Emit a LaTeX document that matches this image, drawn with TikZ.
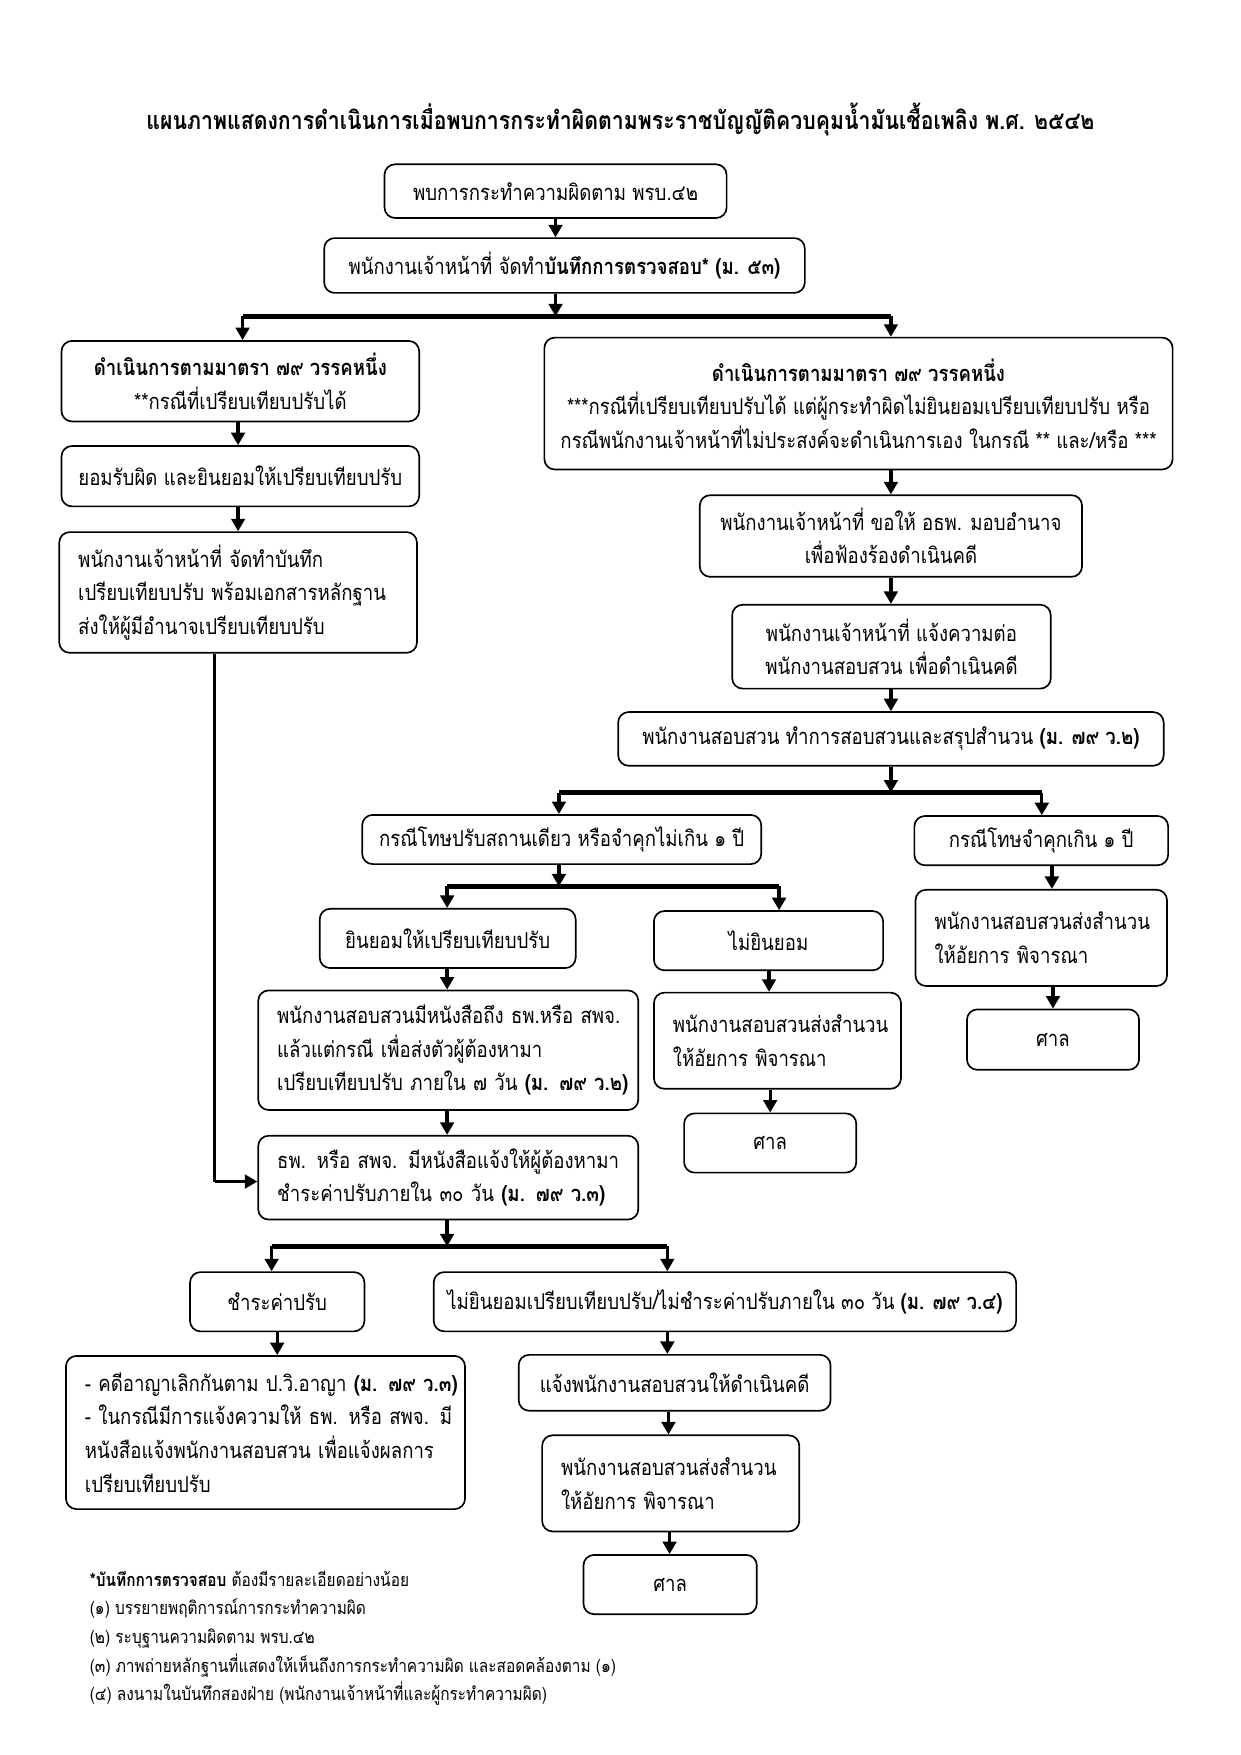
\documentclass[tikz,border=0pt]{standalone}
\usepackage{fontspec}
\setmainfont[Script=Thai, FakeStretch=0.85]{Loma}
\usetikzlibrary{arrows.meta,calc}
\newcommand\uu{0.5363pt}
\newcommand\lne[1]{\mbox{#1}}
\tikzset{
  box/.style={draw, line width=0.8pt, rounded corners=5pt, inner sep=0pt, align=center,
    font=\fontsize{10.5}{16.1}\selectfont},
  sz/.style 2 args={minimum width=#1*\uu, minimum height=#2*\uu},
  lbox/.style 2 args={box, align=left, minimum width=#1*\uu, minimum height=#2*\uu,
    text width=(#1-34)*\uu, inner xsep=0pt},
  arr/.style={line width=1.6pt, -{Triangle[length=6pt,width=6.5pt]}},
  bar/.style={line width=2.4pt},
}
\begin{document}
\begin{tikzpicture}[x=0.5363pt,y=-0.5363pt]
\useasboundingbox (0,0) rectangle (1110,1570);
\node[font=\bfseries\fontsize{12}{15}\selectfont] (title) at (555,107) {แผนภาพแสดงการดำเนินการเมื่อพบการกระทำผิดตามพระราชบัญญัติควบคุมน้ำมันเชื้อเพลิง พ.ศ. ๒๕๔๒};

\node[box, sz={306}{48}] (A) at (497,171) {พบการกระทำความผิดตาม พรบ.๔๒};
\node[box, sz={430}{49}] (B) at (505,237.5) {พนักงานเจ้าหน้าที่ จัดทำ\textbf{บันทึกการตรวจสอบ* (ม. ๕๓)}};

\node[box, sz={320}{72}] (L1) at (215,341) {\textbf{ดำเนินการตามมาตรา ๗๙ วรรคหนึ่ง}\\**กรณีที่เปรียบเทียบปรับได้};
\node[box, sz={320}{54}] (L2) at (215,426) {ยอมรับผิด และยินยอมให้เปรียบเทียบปรับ};
\node[lbox={320}{108}] (L3) at (213,530) {\lne{พนักงานเจ้าหน้าที่ จัดทำบันทึก}\\\lne{เปรียบเทียบปรับ พร้อมเอกสารหลักฐาน}\\\lne{ส่งให้ผู้มีอำนาจเปรียบเทียบปรับ}};

\node[box, sz={562}{118}] (R1) at (768,361) {\textbf{ดำเนินการตามมาตรา ๗๙ วรรคหนึ่ง}\\***กรณีที่เปรียบเทียบปรับได้ แต่ผู้กระทำผิดไม่ยินยอมเปรียบเทียบปรับ หรือ\\กรณีพนักงานเจ้าหน้าที่ไม่ประสงค์จะดำเนินการเอง ในกรณี ** และ/หรือ ***};
\node[box, sz={342}{73}] (R2) at (797,479.5) {พนักงานเจ้าหน้าที่ ขอให้ อธพ. มอบอำนาจ\\เพื่อฟ้องร้องดำเนินคดี};
\node[box, sz={285}{75}] (R3) at (797.5,578.5) {พนักงานเจ้าหน้าที่ แจ้งความต่อ\\พนักงานสอบสวน เพื่อดำเนินคดี};
\node[box, sz={488}{48}] (R4) at (797,661) {พนักงานสอบสวน ทำการสอบสวนและสรุปสำนวน \textbf{(ม. ๗๙ ว.๒)}};

\node[box, sz={357}{44}] (M1) at (502.5,751) {กรณีโทษปรับสถานเดียว หรือจำคุกไม่เกิน ๑ ปี};
\node[box, sz={227}{44}] (M2) at (931.5,752) {กรณีโทษจำคุกเกิน ๑ ปี};
\node[lbox={225}{86}] (M3) at (931.5,839) {\lne{พนักงานสอบสวนส่งสำนวน}\\\lne{ให้อัยการ พิจารณา}};
\node[box, sz={154}{54}] (M4) at (942,930) {ศาล};

\node[box, sz={229}{53}] (N1) at (400.5,839.5) {ยินยอมให้เปรียบเทียบปรับ};
\node[lbox={340}{107}] (N2) at (401,939.5) {\lne{พนักงานสอบสวนมีหนังสือถึง ธพ.หรือ สพจ.}\\\lne{แล้วแต่กรณี เพื่อส่งตัวผู้ต้องหามา}\\\lne{เปรียบเทียบปรับ ภายใน ๗ วัน \textbf{(ม. ๗๙ ว.๒)}}};
\node[lbox={340}{75}] (N3) at (401,1053.5) {\lne{ธพ. หรือ สพจ. มีหนังสือแจ้งให้ผู้ต้องหามา}\\\lne{ชำระค่าปรับภายใน ๓๐ วัน \textbf{(ม. ๗๙ ว.๓)}}};

\node[box, sz={205}{53}] (O1) at (687.5,841.5) {ไม่ยินยอม};
\node[lbox={221}{86}] (O2) at (695.5,931) {\lne{พนักงานสอบสวนส่งสำนวน}\\\lne{ให้อัยการ พิจารณา}};
\node[box, sz={154}{53}] (O3) at (689,1022.5) {ศาล};

\node[box, sz={156}{53}] (P1) at (248,1164.5) {ชำระค่าปรับ};
\node[box, sz={521}{53}] (P2) at (648.5,1164.5) {ไม่ยินยอมเปรียบเทียบปรับ/ไม่ชำระค่าปรับภายใน ๓๐ วัน \textbf{(ม. ๗๙ ว.๔)}};
\node[lbox={357}{137}] (Q1) at (237.5,1281.5) {\lne{- คดีอาญาเลิกกันตาม ป.วิ.อาญา \textbf{(ม. ๗๙ ว.๓)}}\\\lne{- ในกรณีมีการแจ้งความให้ ธพ. หรือ สพจ. มี}\\\lne{หนังสือแจ้งพนักงานสอบสวน เพื่อแจ้งผลการ}\\\lne{เปรียบเทียบปรับ}};
\node[box, sz={279}{50}] (Q2) at (603.5,1237) {แจ้งพนักงานสอบสวนให้ดำเนินคดี};
\node[lbox={230}{86}] (Q3) at (600,1327) {\lne{พนักงานสอบสวนส่งสำนวน}\\\lne{ให้อัยการ พิจารณา}};
\node[box, sz={155}{53}] (Q4) at (599.5,1417.5) {ศาล};

\node[anchor=north west, align=left, inner sep=0pt, font=\fontsize{8.7}{13.7}\selectfont] (note) at (80,1405)
{\textbf{*บันทึกการตรวจสอบ} ต้องมีรายละเอียดอย่างน้อย\\
(๑) บรรยายพฤติการณ์การกระทำความผิด\\
(๒) ระบุฐานความผิดตาม พรบ.๔๒\\
(๓) ภาพถ่ายหลักฐานที่แสดงให้เห็นถึงการกระทำความผิด และสอดคล้องตาม (๑)\\
(๔) ลงนามในบันทึกสองฝ่าย (พนักงานเจ้าหน้าที่และผู้กระทำความผิด)};

% junctions
\coordinate (jB) at (497,283);
\coordinate (jBl) at (217,283);
\coordinate (jBr) at (797,283);
\coordinate (jR) at (797,709);
\coordinate (jRl) at (500,709);
\coordinate (jRr) at (932,709);
\coordinate (jM) at (500,793);
\coordinate (jMl) at (400,793);
\coordinate (jMr) at (697,793);
\coordinate (jN) at (400,1115);
\coordinate (jNl) at (243,1115);
\coordinate (jNr) at (597,1115);
\coordinate (k1) at (192,1057);

\draw[arr] (A.south -| jB) -- (B.north -| jB);
\draw[arr] (B.south -| jB) -- (jB);
\draw[bar] (jBl) -- (jBr);
\draw[arr] (jBl) -- (jBl |- L1.north);
\draw[arr] (jBr) -- (jBr |- R1.north);

\draw[arr] (L1.south -| 213,0) -- (L2.north -| 213,0);
\draw[arr] (L2.south -| 213,0) -- (L3.north -| 213,0);
\draw[line width=1.6pt] (L3.south -| k1) -- (k1);
\draw[arr] (k1) -- (N3.west |- k1);

\draw[arr] (R1.south -| jBr) -- (R2.north -| jBr);
\draw[arr] (R2.south -| jBr) -- (R3.north -| jBr);
\draw[arr] (R3.south -| jBr) -- (R4.north -| jBr);
\draw[arr] (R4.south -| jR) -- (jR);
\draw[bar] (jRl) -- (jRr);
\draw[arr] (jRl) -- (jRl |- M1.north);
\draw[arr] (jRr) -- (jRr |- M2.north);

\draw[arr] (M2.south -| 941,0) -- (M3.north -| 941,0);
\draw[arr] (M3.south -| 942,0) -- (M4.north -| 942,0);

\draw[arr] (M1.south -| jM) -- (jM);
\draw[bar] (jMl) -- (jMr);
\draw[arr] (jMl) -- (jMl |- N1.north);
\draw[arr] (jMr) -- (jMr |- O1.north);

\draw[arr] (N1.south -| jMl) -- (N2.north -| jMl);
\draw[arr] (N2.south -| jMl) -- (N3.north -| jMl);
\draw[arr] (O1.south -| 688,0) -- (O2.north -| 688,0);
\draw[arr] (O2.south -| 689,0) -- (O3.north -| 689,0);

\draw[arr] (N3.south -| jN) -- (jN);
\draw[bar] (jNl) -- (jNr);
\draw[arr] (jNl) -- (jNl |- P1.north);
\draw[arr] (jNr) -- (jNr |- P2.north);

\draw[arr] (P1.south -| 248,0) -- (Q1.north -| 248,0);
\draw[arr] (P2.south -| 597,0) -- (Q2.north -| 597,0);
\draw[arr] (Q2.south -| 598,0) -- (Q3.north -| 598,0);
\draw[arr] (Q3.south -| 599,0) -- (Q4.north -| 599,0);
\end{tikzpicture}
\end{document}
